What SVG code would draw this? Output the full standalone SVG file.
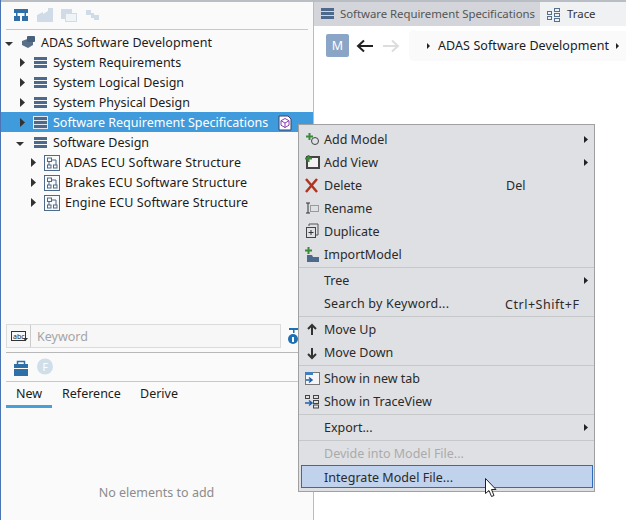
<svg xmlns="http://www.w3.org/2000/svg" width="626" height="520" viewBox="0 0 626 520">
<style>
text{font-family:"Noto Sans","Open Sans","Liberation Sans",sans-serif;font-size:12.5px;fill:#1c1c1c}
.m{fill:#2a2a2a}
.sep{stroke:#c6c7c9;stroke-width:1;fill:none}
.tri{fill:#333}
.ic{fill:#4d6a8c}
.b{fill:none;stroke:#4d6a8c;stroke-width:1}
.tab{font-size:11.4px}
</style>
<defs>
<g id="list"><rect x="0" y="0" width="13" height="3" class="ic"/><rect x="0" y="4" width="13" height="3" class="ic"/><rect x="0" y="8" width="13" height="3" class="ic"/></g>
<g id="struct"><rect x="0.5" y="0.5" width="15" height="15" class="b"/><rect x="3.5" y="3" width="4" height="3.5" class="b"/><rect x="3.5" y="10" width="3.5" height="3" class="b"/><rect x="9.5" y="10" width="3.5" height="3" class="b"/><path d="M7.5 5H12V10M5 6.500V10" class="b"/></g>
<path id="r" d="M0 0L5 4.500L0 9Z" class="tri"/>
<path id="d" d="M0 0L8 0L4 4Z" class="tri"/>
<path id="plus" d="M2.500 0h2v2.500h2.500v2h-2.500v2.500h-2v-2.500h-2.500v-2h2.500z" fill="#3a8a3a"/>
</defs>
<rect width="626" height="520" fill="#fff"/>
<g id="left-panel">
<rect x="0" y="0" width="314" height="520" fill="#fafafa"/>
<rect x="0" y="0" width="626" height="2" fill="#b9bdc4"/>
<rect x="0" y="0" width="1" height="520" fill="#4a74b4"/>
<rect x="313" y="0" width="1" height="520" fill="#bcbcbc"/>
<rect x="6" y="29" width="302" height="1" fill="#c8c8c8"/>
<g id="toolbar">
<g fill="#2f6fa8"><rect x="14" y="9" width="14" height="4"/><rect x="14" y="16" width="6" height="5"/><rect x="22" y="16" width="6" height="5"/><rect x="16" y="13" width="1.500" height="3"/><rect x="24.500" y="13" width="1.500" height="3"/></g>
<path d="M37 15l6-3v2l5-3v-3h5v14h-16z" fill="#cfdce8"/>
<rect x="61" y="9" width="11" height="10" fill="#cfdce8"/><rect x="65.500" y="13.500" width="11" height="8" fill="#f0f4f7" stroke="#cfdce8"/>
<path d="M86 10h5v3h3v2h5v5h-5v-2h-3v-3h-5z" fill="#cfdce8"/>
</g>
</g>
<g id="tree">
<g id="n-root"><use href="#d" x="5" y="42"/><path d="M22 41l8-3 3 2v5l-5 3-6-3z" fill="#5a6f88"/><rect x="27" y="36" width="8" height="6" rx="1" fill="#46607e"/><text x="41" y="47" textLength="171">ADAS Software Development</text></g>
<g id="n-sysreq"><use href="#r" x="20" y="58"/><use href="#list" x="34" y="57"/><text x="53" y="67">System Requirements</text></g>
<g id="n-syslog"><use href="#r" x="20" y="78"/><use href="#list" x="34" y="77"/><text x="53" y="87">System Logical Design</text></g>
<g id="n-sysphy"><use href="#r" x="20" y="98"/><use href="#list" x="34" y="97"/><text x="53" y="107" textLength="137">System Physical Design</text></g>
<g id="n-srs"><rect x="1" y="112" width="312" height="20" fill="#3f9bdc"/><use href="#r" x="20" y="118"/><rect x="33" y="116" width="15" height="13" fill="#dfe7ef"/><use href="#list" x="34" y="117"/><text x="53" y="127" style="fill:#fff">Software Requirement Specifications</text>
<path d="M279 116h9l3 3v11h-12z" fill="#fff" stroke="#3a3f6a"/><path d="M285 118.500l4 2.200v4.500l-4 2.300-4-2.300v-4.500zM281 120.700l4 2.300 4-2.300M285 123v4.500" fill="none" stroke="#8a3fb5"/></g>
<g id="n-swd"><use href="#d" x="16" y="142"/><use href="#list" x="34" y="137"/><text x="53" y="147">Software Design</text></g>
<g id="n-adas"><use href="#r" x="31" y="158"/><use href="#struct" x="44" y="155"/><text x="65" y="167" textLength="176">ADAS ECU Software Structure</text></g>
<g id="n-brakes"><use href="#r" x="31" y="178"/><use href="#struct" x="44" y="175"/><text x="65" y="187" textLength="182">Brakes ECU Software Structure</text></g>
<g id="n-engine"><use href="#r" x="31" y="198"/><use href="#struct" x="44" y="195"/><text x="65" y="207" textLength="183">Engine ECU Software Structure</text></g>
</g>
<g id="search">
<rect x="6.500" y="324.500" width="274" height="23" fill="#f7f7f7" stroke="#dcdcdc"/>
<rect x="30" y="325" width="1" height="22" fill="#cccccc"/>
<rect x="11.500" y="331.500" width="14" height="9" fill="none" stroke="#333"/><text x="13" y="339" style="font-size:7px;fill:#222">abc</text><path d="M23 338h5l-2.500 3z" fill="#333"/>
<text x="37" y="341" style="fill:#a5a5a5">Keyword</text>
<path d="M289 328h10v2h-10zM293 330h1.500v3h-1.500z" fill="#1f6fb5"/><circle cx="293" cy="339" r="5" fill="#1f6fb5"/><rect x="292" y="337" width="2" height="5" fill="#fff"/>
<rect x="6" y="352" width="308" height="1" fill="#b8b8b8"/>
</g>
<g id="palette">
<path d="M14 364h14v4h-14zM14 369h14v7h-14z" fill="#2f6fa8"/><path d="M17.500 364v-2.500h7v2.500" fill="none" stroke="#2f6fa8" stroke-width="1.500"/>
<circle cx="45" cy="366.500" r="8" fill="#cfdfe9"/><text x="45" y="370.500" text-anchor="middle" style="font-size:10px;fill:#fff">F</text>
<rect x="6" y="381" width="308" height="1" fill="#c8c8c8"/>
<text x="16" y="398">New</text><text x="62" y="398">Reference</text><text x="140" y="398">Derive</text>
<rect x="6" y="405" width="46" height="3" fill="#48a0d8"/>
<text x="156.500" y="497" text-anchor="middle" style="fill:#8c8c8c">No elements to add</text>
</g>
<g id="right-panel">
<rect x="314" y="2" width="312" height="24" fill="#d3d5da"/>
<rect x="540" y="2" width="86" height="24" fill="#f0f1f3"/>
<g transform="translate(321,8)"><rect width="13" height="3" fill="#4d6a8c"/><rect y="4" width="13" height="3" fill="#4d6a8c"/><rect y="8" width="13" height="3" fill="#4d6a8c"/></g>
<text class="tab" x="340" y="18" textLength="195" style="fill:#555">Software Requirement Specifications</text>
<g fill="none" stroke="#56708f"><rect x="547.500" y="11.500" width="4" height="3"/><rect x="547.500" y="16.500" width="4" height="3"/><rect x="554.500" y="8.500" width="5" height="3"/><rect x="554.500" y="13.500" width="5" height="3"/><rect x="554.500" y="18.500" width="5" height="3"/></g>
<text class="tab" x="567" y="18" style="fill:#333">Trace</text>
<rect x="326" y="34" width="23" height="23" rx="2" fill="#8ba5c6"/><text x="337.500" y="50" text-anchor="middle" style="fill:#fff">M</text>
<path d="M373 46h-14M364 40.500l-6 5.500 6 5.500" fill="none" stroke="#222" stroke-width="2"/>
<path d="M383 46h14M392 40.500l6 5.500-6 5.500" fill="none" stroke="#dddddd" stroke-width="2"/>
<path d="M626 31h-209a5 5 0 0 0-8 5v20a5 5 0 0 0 5 5h212z" fill="#fafafa"/>
<path d="M427 43l3 3-3 3z" fill="#222"/>
<text x="438" y="50" textLength="171">ADAS Software Development</text>
<path d="M616 43l3 3-3 3z" fill="#222"/>
</g>
<g id="context-menu">
<rect x="298.500" y="124.500" width="296" height="367" fill="#dfe0e3" stroke="#a0a0a0"/>
<g id="i-addmodel"><use href="#plus" x="306" y="133"/><circle cx="315" cy="141" r="3.500" fill="none" stroke="#444"/><text class="m" x="324" y="144">Add Model</text><path d="M584 136l4 3.500-4 3.500z" fill="#222"/></g>
<g id="i-addview"><rect x="307" y="157" width="12" height="11" fill="#f2f2f2" stroke="#444" stroke-width="2"/><use href="#plus" x="305" y="155"/><text class="m" x="324" y="167">Add View</text><path d="M584 159l4 3.500-4 3.500z" fill="#222"/></g>
<g id="i-delete"><path d="M306 179l11 13M317 179l-11 13" stroke="#b0351f" stroke-width="2.500" fill="none"/><text class="m" x="324" y="190">Delete</text><text class="m" x="506" y="190">Del</text></g>
<g id="i-rename"><path d="M306 203h4M306 213h4M308 203v10" stroke="#333" fill="none"/><rect x="310.500" y="205.500" width="8" height="6" fill="none" stroke="#555" stroke-dasharray="1 1"/><text class="m" x="324" y="213">Rename</text></g>
<g id="i-duplicate"><path d="M309 226v-2h9v11h-2" fill="none" stroke="#555"/><rect x="306.500" y="227.500" width="9" height="10" fill="none" stroke="#444"/><path d="M311 230v5M308.500 232.500h5" stroke="#333"/><text class="m" x="324" y="236">Duplicate</text></g>
<g id="i-import"><path d="M307 255h5l1 2h6v5h-12z" fill="#4d6a8c"/><use href="#plus" x="305" y="247"/><text class="m" x="324" y="259">ImportModel</text></g>
<path class="sep" d="M299 267.500h295M299 316.500h295M299 365.500h295M299 414.500h295M299 440.500h295"/>
<g id="i-tree"><text class="m" x="324" y="285">Tree</text><path d="M584 277l4 3.500-4 3.500z" fill="#222"/></g>
<g id="i-search"><text class="m" x="324" y="308" textLength="125">Search by Keyword...</text><text class="m" x="505" y="309" textLength="74">Ctrl+Shift+F</text></g>
<g id="i-up"><path d="M312 325v10M308 329l4-4 4 4" stroke="#333" stroke-width="2" fill="none"/><text class="m" x="324" y="334">Move Up</text></g>
<g id="i-down"><path d="M312 348v10M308 354l4 4 4-4" stroke="#333" stroke-width="2" fill="none"/><text class="m" x="324" y="357">Move Down</text></g>
<g id="i-newtab"><rect x="305.500" y="372.500" width="14" height="12" fill="#f5f5f5" stroke="#777"/><rect x="305" y="372" width="8" height="3" fill="#3f7fbf"/><path d="M306 380h5M309 377.500l3 2.500-3 2.500" stroke="#1f5fa8" stroke-width="1.500" fill="none"/><text class="m" x="324" y="383">Show in new tab</text></g>
<g id="i-traceview"><g fill="none" stroke="#444"><rect x="305.500" y="395.500" width="4" height="3"/><rect x="313.500" y="395.500" width="5" height="3"/><rect x="313.500" y="400.500" width="5" height="3"/><rect x="313.500" y="405" width="5" height="3"/></g><path d="M305 403h6M309 400.500l3 2.500-3 2.500" stroke="#1f5fa8" stroke-width="1.500" fill="none"/><text class="m" x="324" y="406">Show in TraceView</text></g>
<g id="i-export"><text class="m" x="324" y="432">Export...</text><path d="M584 424l4 3.500-4 3.500z" fill="#222"/></g>
<g id="i-devide"><text x="324" y="458" style="fill:#ababab">Devide into Model File...</text></g>
<g id="i-integrate"><rect x="301.500" y="465.500" width="291" height="22" fill="#c0d2ec" stroke="#2f6cc0"/><text class="m" x="324" y="482" textLength="129">Integrate Model File...</text></g>
</g>
<g id="cursor"><path d="M485.500 478.500v15l3.500-3 2.500 6 2.500-1-2.500-6h4.500z" fill="#fff" stroke="#222"/></g>
</svg>
